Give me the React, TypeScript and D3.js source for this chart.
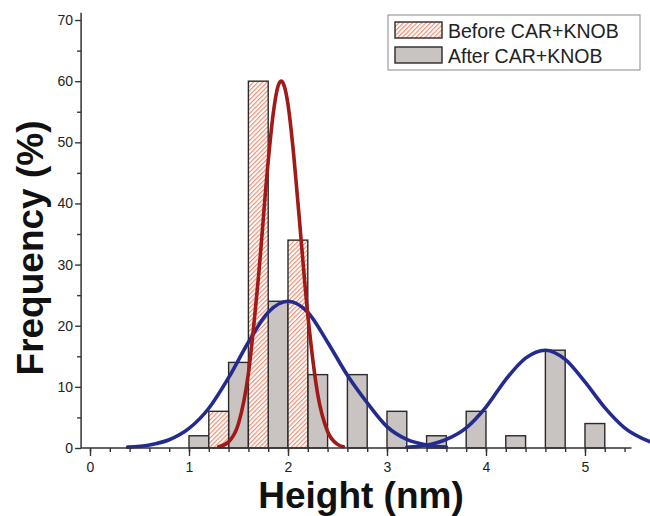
import { useEffect, useRef } from "react";
import * as d3 from "d3";

// histogram bins (left edge, nm) and frequencies (%)
const binWidth = 0.2;
const beforeBins = [1.2, 1.6, 2.0];
const beforeFreq = [6, 60, 34];
const afterBins = [1.0, 1.4, 1.8, 2.2, 2.6, 3.0, 3.4, 3.8, 4.2, 4.6, 5.0];
const afterFreq = [2, 14, 24, 12, 12, 6, 2, 6, 2, 16, 4];

// fitted curves, points
const redFitX = [1.3, 1.4, 1.5, 1.6, 1.7, 1.8, 1.85, 1.9, 1.93, 1.96, 2.0, 2.05, 2.1, 2.2, 2.3, 2.4, 2.5, 2.56];
const redFitY = [0.2, 1.0, 4.0, 12.2, 27.7, 46.9, 54.6, 59.2, 60, 59.3, 56.2, 49.2, 40.2, 21.8, 8.8, 2.7, 0.6, 0.2];
const blueFit1X = [0.38, 0.6, 0.8, 1.0, 1.2, 1.4, 1.6, 1.8, 2.0, 2.2, 2.4, 2.6, 2.8, 3.0, 3.2, 3.4, 3.6];
const blueFit1Y = [0.15, 0.5, 1.35, 3.2, 6.5, 11.5, 17.3, 22.2, 24, 22.2, 17.3, 11.9, 7.4, 3.5, 1.4, 0.5, 0.15];
const blueFit2X = [3.2, 3.4, 3.6, 3.8, 4.0, 4.2, 4.4, 4.6, 4.8, 5.0, 5.2, 5.4, 5.66];
const blueFit2Y = [0.13, 0.46, 1.4, 3.3, 6.7, 11.2, 14.7, 16, 14.5, 10.8, 6.6, 3.3, 1.0];

const xTicks = [0, 1, 2, 3, 4, 5];
const yTicks = [0, 10, 20, 30, 40, 50, 60, 70];
const legendLabels = ["Before CAR+KNOB", "After CAR+KNOB"];

const FONT = "'Liberation Sans', Arial, sans-serif";

const App = () => {
  const svgRef = useRef<SVGSVGElement>(null);

  useEffect(() => {
    document.body.style.margin = "0";
    const svg = d3.select(svgRef.current);
    svg.selectAll("*").remove();

    const width = 650;
    const height = 516;

    const x = d3.scaleLinear().domain([-0.09, 5.47]).range([81.1, 631.5]);
    const y = d3.scaleLinear().domain([0, 71.2]).range([448, 12.7]);

    svg.attr("width", width).attr("height", height);

    const defs = svg.append("defs");
    const pat = defs
      .append("pattern")
      .attr("id", "hatch")
      .attr("patternUnits", "userSpaceOnUse")
      .attr("width", 3.2)
      .attr("height", 3.2)
      .attr("patternTransform", "rotate(45)");
    pat.append("rect").attr("width", 3.2).attr("height", 3.2).attr("fill", "#fff");
    pat
      .append("line")
      .attr("x1", 0.6)
      .attr("x2", 0.6)
      .attr("y1", 0)
      .attr("y2", 3.2)
      .attr("stroke", "#f3866a")
      .attr("stroke-width", 1.1);

    const greyFill = "#c9c3c1";
    const barStroke = "#2a2a2a";

    // After bars
    svg
      .append("g")
      .selectAll("rect")
      .data(afterBins.map((b, i) => ({ b, v: afterFreq[i] })))
      .join("rect")
      .attr("x", (d) => x(d.b))
      .attr("width", (d) => x(d.b + binWidth) - x(d.b))
      .attr("y", (d) => y(d.v))
      .attr("height", (d) => y(0) - y(d.v))
      .attr("fill", greyFill)
      .attr("stroke", barStroke)
      .attr("stroke-width", 1.4);

    // Before bars
    svg
      .append("g")
      .selectAll("rect")
      .data(beforeBins.map((b, i) => ({ b, v: beforeFreq[i] })))
      .join("rect")
      .attr("x", (d) => x(d.b))
      .attr("width", (d) => x(d.b + binWidth) - x(d.b))
      .attr("y", (d) => y(d.v))
      .attr("height", (d) => y(0) - y(d.v))
      .attr("fill", "url(#hatch)")
      .attr("stroke", barStroke)
      .attr("stroke-width", 1.4);

    // Fit curves
    const line = d3
      .line<[number, number]>()
      .x((d) => x(d[0]))
      .y((d) => y(d[1]))
      .curve(d3.curveMonotoneX);

    const curves = [
      { xs: blueFit1X, ys: blueFit1Y, color: "#232c8e" },
      { xs: blueFit2X, ys: blueFit2Y, color: "#232c8e" },
      { xs: redFitX, ys: redFitY, color: "#a11a1a" },
    ];
    curves.forEach((c) => {
      svg
        .append("path")
        .datum(c.xs.map((v, i) => [v, c.ys[i]] as [number, number]))
        .attr("fill", "none")
        .attr("stroke", c.color)
        .attr("stroke-width", 3.6)
        .attr("stroke-linecap", "round")
        .attr("d", line);
    });

    // Axes
    const axisColor = "#333";
    const xAxis = svg.append("g").attr("transform", `translate(0,${y(0)})`);
    xAxis
      .call(
        d3
          .axisBottom(x)
          .tickValues(d3.range(0, 5.41, 0.2))
          .tickSize(4)
          .tickFormat(() => "")
      )
      .call((g) => g.select(".domain").remove());
    xAxis
      .append("g")
      .call(d3.axisBottom(x).tickValues(xTicks).tickSize(8).tickFormat(d3.format("d")))
      .call((g) => g.select(".domain").remove());
    xAxis
      .append("line")
      .attr("x1", x(-0.09))
      .attr("x2", x(5.47))
      .attr("stroke", axisColor)
      .attr("stroke-width", 1.5);

    const yAxis = svg.append("g").attr("transform", `translate(${x(-0.09)},0)`);
    yAxis
      .call(
        d3
          .axisLeft(y)
          .tickValues(d3.range(5, 70, 10))
          .tickSize(4)
          .tickFormat(() => "")
      )
      .call((g) => g.select(".domain").remove());
    yAxis
      .append("g")
      .call(d3.axisLeft(y).tickValues(yTicks).tickSize(6).tickFormat(d3.format("d")))
      .call((g) => g.select(".domain").remove());
    yAxis
      .append("line")
      .attr("y1", y(0))
      .attr("y2", y(71.2))
      .attr("stroke", axisColor)
      .attr("stroke-width", 1.5);

    svg.selectAll(".tick line").attr("stroke", axisColor).attr("stroke-width", 1.4);
    svg
      .selectAll(".tick text")
      .attr("font-family", FONT)
      .attr("font-size", 14)
      .attr("fill", "#222");
    xAxis.selectAll(".tick text").attr("dy", "1.05em").attr("y", 9);
    yAxis.selectAll(".tick text").attr("x", -8);

    // Axis titles
    svg
      .append("text")
      .attr("x", 361)
      .attr("y", 508)
      .attr("text-anchor", "middle")
      .attr("font-family", FONT)
      .attr("font-weight", "bold")
      .attr("font-size", 37)
      .attr("fill", "#111")
      .text("Height (nm)");

    svg
      .append("text")
      .attr("transform", `translate(43,248) rotate(-90)`)
      .attr("text-anchor", "middle")
      .attr("font-family", FONT)
      .attr("font-weight", "bold")
      .attr("font-size", 37)
      .attr("fill", "#111")
      .text("Frequency (%)");

    // Legend
    const legend = svg.append("g");
    legend
      .append("rect")
      .attr("x", 388)
      .attr("y", 15)
      .attr("width", 252)
      .attr("height", 55)
      .attr("fill", "#fff")
      .attr("stroke", "#8a8a8a")
      .attr("stroke-width", 1);
    legendLabels.forEach((label, i) => {
      const top = 22 + i * 25;
      legend
        .append("rect")
        .attr("x", 395)
        .attr("y", top)
        .attr("width", 47)
        .attr("height", 16)
        .attr("fill", i === 0 ? "url(#hatch)" : greyFill)
        .attr("stroke", barStroke)
        .attr("stroke-width", 1.4);
      legend
        .append("text")
        .attr("x", 448)
        .attr("y", top + 15.5)
        .attr("font-family", FONT)
        .attr("font-size", 19.5)
        .attr("fill", "#222")
        .text(label);
    });
  }, []);

  return <svg ref={svgRef}></svg>;
};

export default App;
